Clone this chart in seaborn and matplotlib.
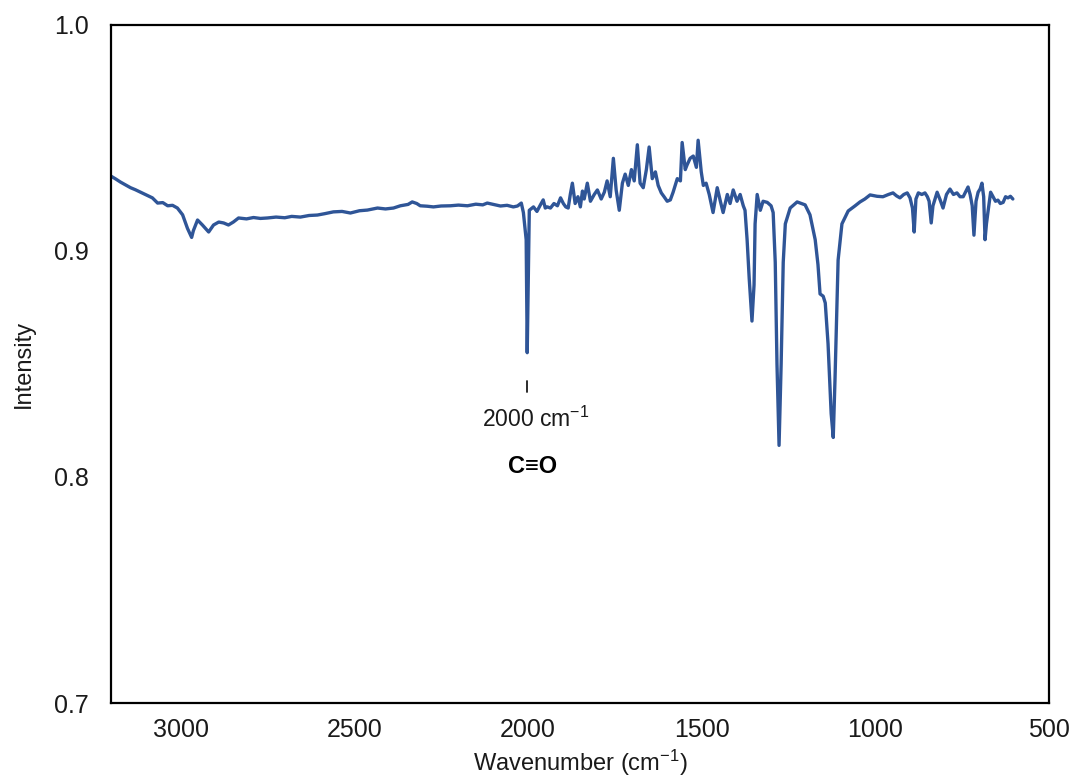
import numpy as np
import pandas as pd
import matplotlib
matplotlib.use("Agg")
import matplotlib.pyplot as plt
import seaborn as sns

# FTIR spectrum: wavenumber (cm-1) and intensity
wavenumber = [
    3199, 3186, 3173, 3158, 3144, 3130, 3115, 3098, 3081, 3066,
    3051, 3037, 3023, 3009, 2994, 2980, 2968, 2963, 2951, 2937,
    2919, 2905, 2890, 2876, 2862, 2848, 2833, 2810, 2790, 2770,
    2750, 2725, 2700, 2680, 2655, 2630, 2606, 2585, 2560, 2535,
    2511, 2485, 2462, 2433, 2410, 2387, 2367, 2345, 2333, 2320,
    2310, 2290, 2272, 2250, 2223, 2200, 2174, 2150, 2130, 2117,
    2100, 2079, 2060, 2042, 2030, 2019, 2013, 2005, 2002, 1996,
    1984, 1974, 1964, 1956, 1950, 1944, 1935, 1925, 1915, 1906,
    1898, 1891, 1884, 1878, 1872, 1864, 1856, 1849, 1843, 1838,
    1829, 1820, 1809, 1800, 1789, 1780, 1772, 1763, 1754, 1746,
    1737, 1728, 1720, 1711, 1702, 1694, 1685, 1677, 1668, 1659,
    1651, 1642, 1633, 1625, 1616, 1608, 1599, 1590, 1582, 1570,
    1561, 1556, 1547, 1542, 1533, 1524, 1515, 1510, 1501, 1495,
    1487, 1478, 1467, 1455, 1446, 1438, 1426, 1418, 1409, 1398,
    1389, 1380, 1375, 1369, 1363, 1355, 1349, 1346, 1340, 1331,
    1323, 1311, 1300, 1294, 1288, 1283, 1277, 1271, 1265, 1259,
    1245, 1225, 1202, 1188, 1173, 1165, 1159, 1150, 1144, 1136,
    1127, 1121, 1116, 1107, 1096, 1078, 1058, 1044, 1030, 1015,
    995, 978, 962, 949, 939, 929, 918, 908, 900, 893,
    888, 883, 876, 866, 857, 850, 845, 839, 834, 830,
    822, 813, 805, 795, 785, 775, 765, 756, 747, 740,
    733, 727, 721, 716, 710, 704, 698, 693, 688, 684,
    680, 676, 668, 661, 654, 647, 640, 632, 625, 618,
    611, 604,
]
intensity = [
    0.9330, 0.9318, 0.9305, 0.9292, 0.9280, 0.9271, 0.9260, 0.9248, 0.9235, 0.9212,
    0.9214, 0.9200, 0.9202, 0.9190, 0.9160, 0.9100, 0.9060, 0.9090, 0.9137, 0.9115,
    0.9084, 0.9115, 0.9128, 0.9124, 0.9115, 0.9128, 0.9146, 0.9142, 0.9148, 0.9144,
    0.9146, 0.9150, 0.9147, 0.9153, 0.9150, 0.9157, 0.9159, 0.9165, 0.9173, 0.9175,
    0.9168, 0.9178, 0.9181, 0.9190, 0.9186, 0.9190, 0.9200, 0.9206, 0.9217, 0.9210,
    0.9200, 0.9198, 0.9195, 0.9199, 0.9200, 0.9203, 0.9200, 0.9207, 0.9204, 0.9212,
    0.9206, 0.9199, 0.9202, 0.9195, 0.9199, 0.9212, 0.9170, 0.9050, 0.8550, 0.9180,
    0.9195, 0.9175, 0.9204, 0.9226, 0.9190, 0.9195, 0.9190, 0.9210, 0.9200, 0.9235,
    0.9210, 0.9195, 0.9190, 0.9250, 0.9300, 0.9210, 0.9240, 0.9195, 0.9265, 0.9230,
    0.9300, 0.9220, 0.9250, 0.9270, 0.9230, 0.9260, 0.9310, 0.9240, 0.9410, 0.9270,
    0.9180, 0.9300, 0.9340, 0.9290, 0.9360, 0.9310, 0.9470, 0.9300, 0.9280, 0.9360,
    0.9460, 0.9320, 0.9350, 0.9290, 0.9257, 0.9240, 0.9220, 0.9226, 0.9260, 0.9320,
    0.9310, 0.9480, 0.9360, 0.9380, 0.9410, 0.9420, 0.9370, 0.9490, 0.9350, 0.9290,
    0.9300, 0.9250, 0.9170, 0.9280, 0.9220, 0.9170, 0.9250, 0.9210, 0.9270, 0.9220,
    0.9250, 0.9200, 0.9180, 0.9050, 0.8880, 0.8690, 0.8850, 0.9120, 0.9250, 0.9180,
    0.9220, 0.9215, 0.9200, 0.9170, 0.8950, 0.8500, 0.8140, 0.8500, 0.8950, 0.9120,
    0.9190, 0.9217, 0.9204, 0.9160, 0.9050, 0.8940, 0.8810, 0.8800, 0.8770, 0.8590,
    0.8280, 0.8175, 0.8430, 0.8960, 0.9120, 0.9177, 0.9200, 0.9217, 0.9230, 0.9248,
    0.9242, 0.9240, 0.9250, 0.9257, 0.9244, 0.9235, 0.9250, 0.9257, 0.9235, 0.9190,
    0.9084, 0.9230, 0.9257, 0.9250, 0.9257, 0.9240, 0.9220, 0.9124, 0.9200, 0.9220,
    0.9260, 0.9225, 0.9190, 0.9250, 0.9274, 0.9250, 0.9257, 0.9240, 0.9240, 0.9262,
    0.9283, 0.9250, 0.9200, 0.9070, 0.9220, 0.9260, 0.9275, 0.9300, 0.9240, 0.9050,
    0.9120, 0.9168, 0.9260, 0.9240, 0.9220, 0.9225, 0.9210, 0.9215, 0.9240, 0.9235,
    0.9242, 0.9230,
]

x_ticks = [3000, 2500, 2000, 1500, 1000, 500]
y_ticks = [0.7, 0.8, 0.9, 1.0]

peak_position = 2002
peak_label = "2000 cm$^{\\mathregular{-1}}$"
group_label = "C\u2261O"

sns.set_theme(style="white")
plt.rcParams["font.family"] = ["Liberation Sans", "DejaVu Sans"]
plt.rcParams["mathtext.fontset"] = "custom"
plt.rcParams["mathtext.rm"] = "Liberation Sans"
plt.rcParams["mathtext.it"] = "Liberation Sans:italic"
plt.rcParams["mathtext.bf"] = "Liberation Sans:bold"

df = pd.DataFrame({"Wavenumber": wavenumber, "Intensity": intensity})

fig = plt.figure(figsize=(10.74, 7.80), dpi=100)
ax = fig.add_axes([0.1034, 0.0987, 0.8733, 0.8693])

sns.lineplot(data=df, x="Wavenumber", y="Intensity", ax=ax, sort=False,
             estimator=None, color="#2f5597", linewidth=2.4)

ax.set_xlim(3200, 500)
ax.set_ylim(0.7, 1.0)
ax.set_xticks(x_ticks)
ax.set_xticklabels([str(t) for t in x_ticks])
ax.set_yticks(y_ticks)
ax.set_yticklabels([f"{t:.1f}" for t in y_ticks])
ax.tick_params(axis="both", length=0, labelsize=18, colors="#1a1a1a")
ax.tick_params(axis="x", pad=11)
ax.tick_params(axis="y", pad=16)

for side in ["left", "right", "top", "bottom"]:
    ax.spines[side].set_visible(True)
    ax.spines[side].set_color("black")
    ax.spines[side].set_linewidth(1.6)

ax.set_xlabel("Wavenumber (cm$^{\\mathregular{-1}}$)", fontsize=17, labelpad=4, color="#1a1a1a")
ax.set_ylabel("Intensity", fontsize=17, labelpad=14, color="#1a1a1a")

# Peak marker and labels for the carbonyl band
ax.plot([peak_position, peak_position], [0.8376, 0.8425], color="#1a1a1a", linewidth=1.3)
ax.text(peak_position - 25, 0.8255, peak_label, ha="center", va="center",
        fontsize=16.5, color="#1a1a1a")
ax.text(peak_position - 15, 0.8048, group_label, ha="center", va="center",
        fontsize=17, fontweight="bold", color="black",
        family=["Liberation Sans", "DejaVu Sans"])

fig.savefig("out.png", dpi=100)
